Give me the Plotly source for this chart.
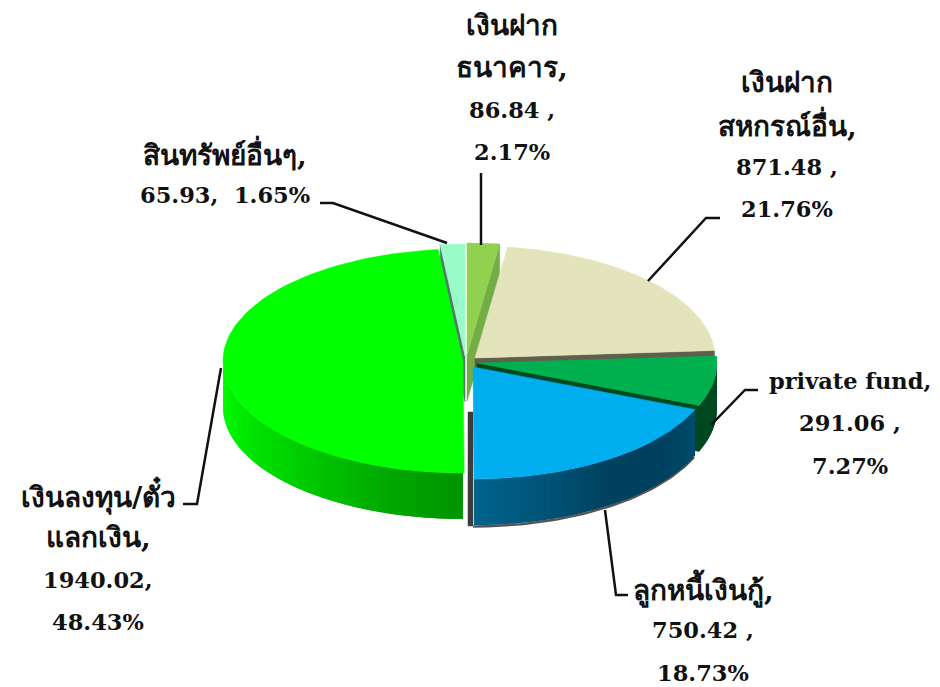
import numpy as np
import plotly.graph_objects as go

# ---- data (clockwise from 12 o'clock) ----
names = ["bank", "coop", "private", "loan", "invest", "other"]
values = [86.84, 871.48, 291.06, 750.42, 1940.02, 65.93]
percents = [2.17, 21.76, 7.27, 18.73, 48.43, 1.65]
label_lines = [
    ["เงินฝาก", "ธนาคาร,", "86.84 ,", "2.17%"],
    ["เงินฝาก", "สหกรณ์อื่น,", "871.48 ,", "21.76%"],
    ["private fund,", "291.06 ,", "7.27%"],
    ["ลูกหนี้เงินกู้,", "750.42 ,", "18.73%"],
    ["เงินลงทุน/ตั๋ว", "แลกเงิน,", "1940.02,", "48.43%"],
    ["สินทรัพย์อื่นๆ,", "65.93,  1.65%"],
]
top_colors = ["#92d050", "#e4e4bc", "#00b04e", "#00adef", "#00ff00", "#99fbc8"]
face_colors = ["#74ad45", "#5f5f4c", "#00481f", "#3c3c3c", "#009000", "#54776a"]

# ---- drawing geometry, in pixels of the 940x687 canvas ----
RX, RY, DEPTH = 240, 112, 46
centres = [(467, 355), (475, 358), (477, 363), (473, 367), (463, 361), (465, 356)]
label_pos = [(512, 25), (787, 82), (850, 381), (703, 588), (98, 495), (225, 153)]
leaders = [
    ([481, 481], [173, 245]),
    ([720, 706, 648], [218, 218, 281]),
    ([758, 745, 711], [390, 390, 425]),
    ([605, 616, 628], [510, 595, 595]),
    ([183, 197, 221], [504, 504, 368]),
    ([320, 333, 447], [203, 203, 243]),
]
LINE_STEP = 42.4
FONT = "DejaVu Serif, Noto Sans, sans-serif"
THAI_SIZE, LATIN_SIZE = 28, 22.5

fractions = np.cumsum([0] + percents) / sum(percents)
angles = fractions * 2 * np.pi


def has_thai(s):
    return any("\u0e00" <= ch <= "\u0e7f" for ch in s)


def pt(i, th):
    cx, cy = centres[i]
    return cx + RX * np.sin(th), cy - RY * np.cos(th)


def poly(fig, x, y, color, lw=0.5):
    fig.add_trace(go.Scatter(x=list(x), y=list(y), mode="lines", fill="toself",
                             fillcolor=color, line=dict(color=color, width=lw),
                             hoverinfo="skip", showlegend=False))


def top(fig, i):
    th = np.linspace(angles[i], angles[i + 1], 90)
    x, y = pt(i, th)
    cx, cy = centres[i]
    poly(fig, np.r_[cx, x, cx], np.r_[cy, y, cy], top_colors[i])


def face(fig, i, th):
    cx, cy = centres[i]
    x, y = pt(i, th)
    poly(fig, [cx, x, x, cx, cx], [cy, y, y + DEPTH, cy + DEPTH, cy], face_colors[i])


def wall(fig, i, a, b, stops, n=36):
    """Outer rim between angles a and b, shaded through colour stops."""
    edges = np.linspace(a, b, n + 1)
    pos = np.linspace(0, 1, len(stops))
    rgb = np.array([[int(c[k:k + 2], 16) for k in (1, 3, 5)] for c in stops])
    for j in range(n):
        t = (j + 0.5) / n
        col = [int(np.interp(t, pos, rgb[:, k])) for k in range(3)]
        # every strip runs on under the next one so no seam shows
        th = np.linspace(edges[j], edges[min(j + 2, n)], 8)
        x, y = pt(i, th)
        poly(fig, np.r_[x, x[::-1]], np.r_[y, y[::-1] + DEPTH],
             "rgb(%d,%d,%d)" % tuple(col), lw=0)


fig = go.Figure()
BANK, COOP, PRIV, LOAN, INV, OTHER = range(6)

# back to front
face(fig, OTHER, angles[OTHER])
top(fig, OTHER)
face(fig, BANK, angles[BANK + 1])
top(fig, BANK)
face(fig, COOP, angles[COOP + 1])
top(fig, COOP)
wall(fig, PRIV, angles[PRIV], angles[PRIV + 1], ["#00481f", "#00481f"], n=8)
face(fig, PRIV, angles[PRIV + 1])
top(fig, PRIV)

# loan slice: shadow rim, side, wall, top
th = np.linspace(angles[LOAN], angles[LOAN + 1], 60)
sx, sy = pt(LOAN, th)
fig.add_trace(go.Scatter(x=sx - 1, y=sy + DEPTH + 1.5, mode="lines",
                         line=dict(color="#555555", width=2.5),
                         hoverinfo="skip", showlegend=False))
cx, cy = centres[LOAN]
poly(fig, [cx - 5, cx, cx, cx - 5, cx - 5],
     [cy + 45, cy + 45, cy + RY + DEPTH + 1, cy + RY + DEPTH + 1, cy + 45],
     face_colors[LOAN])
wall(fig, LOAN, angles[LOAN], angles[LOAN + 1],
     ["#004c6c", "#00415f", "#00415f", "#005378", "#00648f"], n=36)
top(fig, LOAN)

# investment slice
wall(fig, INV, np.pi, 1.5 * np.pi,
     ["#009300", "#00a800", "#00c400", "#00dc00", "#00ef00", "#00ff00"], n=48)
top(fig, INV)

# leader lines
for lx, ly in leaders:
    fig.add_trace(go.Scatter(x=lx, y=ly, mode="lines",
                             line=dict(color="#111111", width=2.5),
                             hoverinfo="skip", showlegend=False))

# labels
annotations = []
for lines, (x, y0) in zip(label_lines, label_pos):
    for k, s in enumerate(lines):
        annotations.append(dict(x=x, y=y0 + k * LINE_STEP, text=s, showarrow=False,
                                xref="x", yref="y", xanchor="center", yanchor="middle",
                                font=dict(family=FONT, color="#111111", weight="bold",
                                          size=THAI_SIZE if has_thai(s) else LATIN_SIZE)))

fig.update_layout(
    width=940, height=687, margin=dict(l=0, r=0, t=0, b=0),
    paper_bgcolor="white", plot_bgcolor="white", showlegend=False,
    annotations=annotations,
    xaxis=dict(range=[0, 940], visible=False, fixedrange=True),
    yaxis=dict(range=[687, 0], visible=False, fixedrange=True),
)
fig.write_html("out.html", config={"displayModeBar": False},
               post_script="document.body.style.margin='0';document.documentElement.style.overflow='hidden';")
